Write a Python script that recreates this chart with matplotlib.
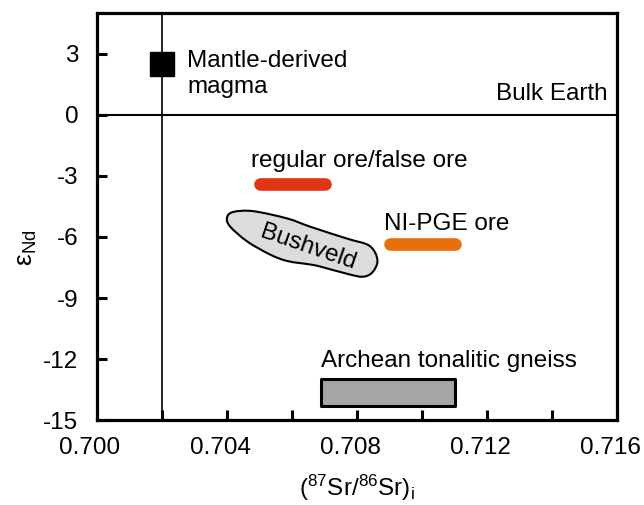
import numpy as np
import matplotlib
matplotlib.use('Agg')
import matplotlib.pyplot as plt
import matplotlib.transforms as mtransforms
from matplotlib.path import Path
from matplotlib.patches import PathPatch, Rectangle

plt.rcParams['font.family'] = ['Liberation Sans', 'DejaVu Sans']
plt.rcParams['mathtext.fontset'] = 'custom'
plt.rcParams['mathtext.rm'] = 'Liberation Sans'
plt.rcParams['mathtext.it'] = 'Liberation Sans:italic'
plt.rcParams['axes.unicode_minus'] = False

# reference values
bulk_earth_sr = 0.702
bulk_earth_nd = 0.0
mantle_sr, mantle_nd = 0.702, 2.5

regular_sr = [0.7050, 0.7070]
regular_nd = -3.4
nipge_sr = [0.7090, 0.7110]
nipge_nd = -6.35

archean_sr = [0.7069, 0.7110]
archean_nd = [-14.3, -13.0]

# Bushveld field outline (Sr, eps Nd)
bush_sr = [0.70400, 0.70419, 0.70480, 0.70585, 0.70655, 0.70769, 0.70831, 0.70855,
           0.70862, 0.70846, 0.70819, 0.70779, 0.70686, 0.70655, 0.70585, 0.70532,
           0.70462, 0.70409]
bush_nd = [-5.04, -4.77, -4.73, -5.09, -5.49, -6.08, -6.37, -6.76,
           -7.26, -7.75, -7.95, -7.85, -7.45, -7.35, -7.18, -6.86,
           -6.22, -5.48]

xticks = [0.700, 0.704, 0.708, 0.712, 0.716]
yticks = [3, 0, -3, -6, -9, -12, -15]

fig = plt.figure(figsize=(6.44, 5.05), dpi=100)
ax = fig.add_axes([0.1506, 0.168, 0.808, 0.806])
ax.set_xlim(0.700, 0.716)
ax.set_ylim(-15, 5)

# reference lines
ax.axvline(bulk_earth_sr, color='black', lw=1.2, zorder=1)
ax.axhline(bulk_earth_nd, color='black', lw=1.5, zorder=1)

# mantle-derived magma
ax.plot([mantle_sr], [mantle_nd], marker='s', ms=17.3, color='black', zorder=4)

# ore bars
ax.plot(regular_sr, [regular_nd] * 2, color='#E03614', lw=9.1,
        solid_capstyle='round', zorder=3)
ax.plot(nipge_sr, [nipge_nd] * 2, color='#E8700A', lw=9.1,
        solid_capstyle='round', zorder=3)

# archean gneiss box
ax.add_patch(Rectangle((archean_sr[0], archean_nd[0]),
                       archean_sr[1] - archean_sr[0],
                       archean_nd[1] - archean_nd[0],
                       facecolor='#A5A5A5', edgecolor='black', lw=2.2,
                       joinstyle='round', zorder=3))

# Bushveld field as smooth closed curve (Catmull-Rom -> Bezier)
pts = np.column_stack([bush_sr, bush_nd])
n = len(pts)
verts = [pts[0]]
codes = [Path.MOVETO]
for i in range(n):
    p0, p1, p2, p3 = pts[i - 1], pts[i], pts[(i + 1) % n], pts[(i + 2) % n]
    c1 = p1 + (p2 - p0) / 6.0
    c2 = p2 - (p3 - p1) / 6.0
    verts += [c1, c2, p2]
    codes += [Path.CURVE4] * 3
ax.add_patch(PathPatch(Path(verts, codes), facecolor='#DCDCDC',
                       edgecolor='black', lw=1.5, zorder=2))
ax.text(0.70649, -6.5, 'Bushveld', rotation=-19, fontsize=17.5,
        ha='center', va='center', rotation_mode='anchor', zorder=5)

# labels
fs = 17.5
ax.text(0.70277, 2.0, 'Mantle-derived\nmagma', fontsize=fs, ha='left', va='center')
ax.text(0.71569, 1.03, 'Bulk Earth', fontsize=fs, ha='right', va='center')
ax.text(0.70474, -2.27, 'regular ore/false ore', fontsize=fs, ha='left', va='center')
ax.text(0.70883, -5.37, 'NI-PGE ore', fontsize=fs, ha='left', va='center')
ax.text(0.70689, -12.1, 'Archean tonalitic gneiss', fontsize=fs, ha='left', va='center')

ax.set_xticks(xticks)
ax.set_xticklabels(['%.3f' % v for v in xticks])
ax.set_xticks(np.arange(0.702, 0.716, 0.004), minor=True)
ax.set_yticks(yticks)
ax.tick_params(axis='both', which='both', direction='in', length=7, width=2.2,
               labelsize=fs)
ax.tick_params(axis='x', which='major', pad=12)
ax.tick_params(axis='y', which='major', pad=13.5)
ax.tick_params(top=False, right=False)

# x tick labels sit a little left of their ticks in the original
shift = mtransforms.ScaledTranslation(-7 / 100, 0, fig.dpi_scale_trans)
for lab in ax.get_xticklabels():
    lab.set_transform(lab.get_transform() + shift)

for sp in ax.spines.values():
    sp.set_linewidth(2.3)

ax.set_xlabel(r'$(^{87}\mathrm{Sr}/^{86}\mathrm{Sr})_\mathrm{i}$', fontsize=fs, labelpad=10)
ax.set_ylabel(r'$\mathrm{ε}_{\mathrm{Nd}}$', fontsize=19)
ax.yaxis.set_label_coords(-0.112, 0.423)

fig.savefig('out.png', dpi=100)
